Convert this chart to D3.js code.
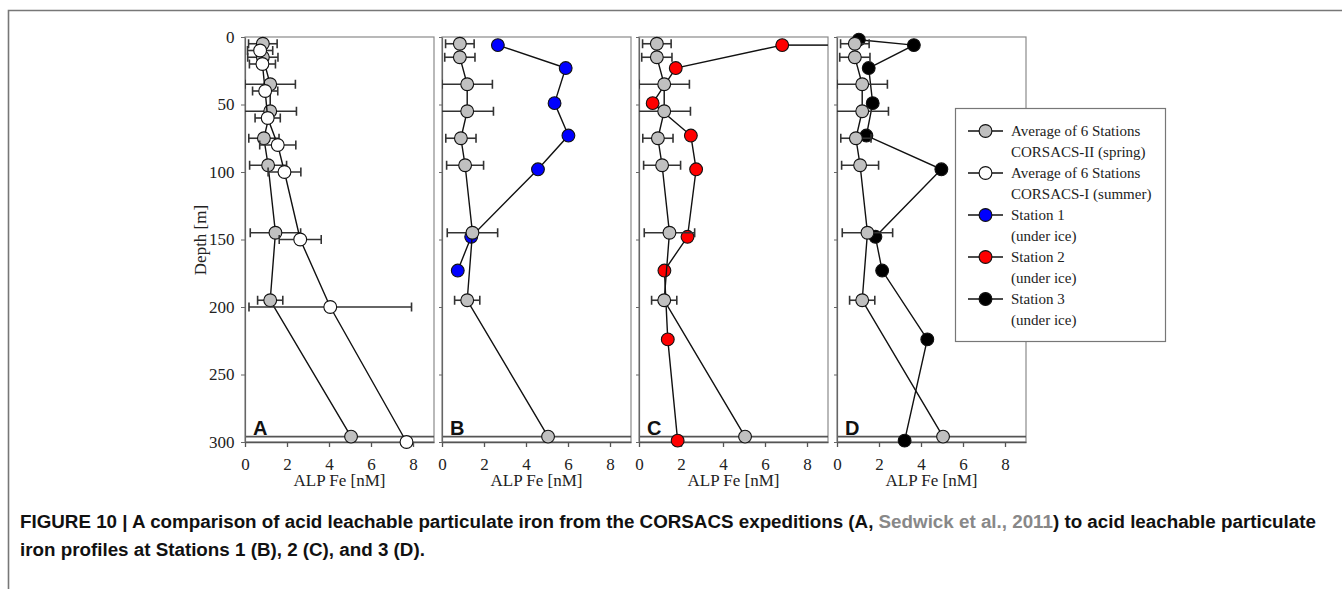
<!DOCTYPE html>
<html>
<head>
<meta charset="utf-8">
<script src="https://cdn.jsdelivr.net/npm/d3@7"></script>
<style>
  html, body { margin: 0; padding: 0; background: #fff; }
  svg { display: block; }
</style>
</head>
<body>
<svg id="fig" width="1342" height="589"></svg>
<script>
// ALP Fe depth profiles: CORSACS averages and under-ice stations
const xTicks = [0, 2, 4, 6, 8];
const yTicks = [0, 50, 100, 150, 200, 250, 300];
const panelLetters = ["A", "B", "C", "D"];

// CORSACS-II (spring) average of 6 stations
const springDepth = [5, 15, 35, 55, 75, 95, 145, 195, 296];
const springFe    = [0.85, 0.85, 1.2, 1.2, 0.9, 1.1, 1.45, 1.2, 5.05];
const springErr   = [0.68, 0.72, 1.2, 1.25, 0.72, 0.88, 1.2, 0.6, 0];

// CORSACS-I (summer) average of 6 stations
const summerDepth = [10, 20, 40, 60, 80, 100, 150, 200, 300];
const summerFe    = [0.72, 0.83, 0.96, 1.08, 1.56, 1.88, 2.63, 4.06, 7.69];
const summerErr   = [0.6, 0.62, 0.6, 0.6, 0.86, 0.78, 1.0, 3.87, 0];

// Station 1 (under ice)
const st1Depth = [6, 23, 49, 73, 98, 148, 173];
const st1Fe    = [2.66, 5.89, 5.36, 6.02, 4.57, 1.39, 0.75];

// Station 2 (under ice); only the upward error of the surface sample is shown
const st2Depth = [6, 23, 49, 73, 98, 148, 173, 224, 299];
const st2Fe    = [6.82, 1.75, 0.65, 2.47, 2.72, 2.31, 1.21, 1.37, 1.84];
const st2ErrUp = [3.0, 0, 0, 0, 0, 0, 0, 0, 0];

// Station 3 (under ice)
const st3Depth = [2, 6, 23, 49, 73, 98, 148, 173, 224, 299];
const st3Fe    = [1.04, 3.66, 1.51, 1.70, 1.40, 4.97, 1.83, 2.15, 4.30, 3.22];

const legendLabels = [
  ["Average of 6 Stations", "CORSACS-II (spring)"],
  ["Average of 6 Stations", "CORSACS-I (summer)"],
  ["Station 1", "(under ice)"],
  ["Station 2", "(under ice)"],
  ["Station 3", "(under ice)"]
];
const seafloorDepth = 296;

const zip = (d, v, e, eu) => d.map((dep, i) => ({
  depth: dep, fe: v[i],
  lo: e ? v[i] - e[i] : null, hi: e ? v[i] + e[i] : (eu ? v[i] + eu[i] : null)
}));

const spring = { pts: zip(springDepth, springFe, springErr), fill: "#c0c0c0" };
const summer = { pts: zip(summerDepth, summerFe, summerErr), fill: "#ffffff" };
const st1 = { pts: zip(st1Depth, st1Fe), fill: "#0000ff" };
const st2 = { pts: zip(st2Depth, st2Fe, null, st2ErrUp), fill: "#ff0000" };
const st3 = { pts: zip(st3Depth, st3Fe), fill: "#000000" };

const panels = [
  { series: [spring, summer] },
  { series: [st1, spring] },
  { series: [st2, spring] },
  { series: [st3, spring] }
];

const svg = d3.select("#fig");
const serif = "'Liberation Serif', 'Times New Roman', serif";
const sans = "'Liberation Sans', Arial, sans-serif";

// outer figure frame
svg.append("path")
  .attr("d", "M8.5,589 V10.5 H1342")
  .attr("fill", "none").attr("stroke", "#777").attr("stroke-width", 1.6);

const panelLeft = [245, 442, 639, 837];
const pw = 189, pTop = 37, pBottom = 442;
const y = d3.scaleLinear().domain([0, 300]).range([pTop, pBottom]);
const R = 6.4;

panels.forEach((p, pi) => {
  const x = d3.scaleLinear().domain([0, 9]).range([panelLeft[pi], panelLeft[pi] + pw]);
  const g = svg.append("g");

  // frame
  g.append("rect")
    .attr("x", x(0)).attr("y", pTop).attr("width", x(9) - x(0)).attr("height", pBottom - pTop)
    .attr("fill", "none").attr("stroke", "#8a8a8a").attr("stroke-width", 1.2);

  // seafloor line
  g.append("line")
    .attr("x1", x(0)).attr("x2", x(9)).attr("y1", y(seafloorDepth)).attr("y2", y(seafloorDepth))
    .attr("stroke", "#555").attr("stroke-width", 1.6);

  // x axis
  const xa = g.append("g").attr("transform", `translate(0,${pBottom})`)
    .call(d3.axisBottom(x).tickValues(xTicks).tickSize(5).tickSizeOuter(0));
  xa.select(".domain").attr("stroke", "#555").attr("stroke-width", 1.4);
  xa.selectAll(".tick line").attr("stroke", "#555").attr("stroke-width", 1.3);
  xa.selectAll(".tick text").attr("font-family", serif).attr("font-size", 17)
    .attr("fill", "#222").attr("dy", "1.15em");

  // y axis (labels only on the first panel)
  const ya = g.append("g").attr("transform", `translate(${x(0)},0)`)
    .call(d3.axisLeft(y).tickValues(yTicks).tickSize(pi === 0 ? 4 : 3).tickSizeOuter(0)
      .tickFormat(pi === 0 ? d3.format("d") : () => ""));
  ya.select(".domain").attr("stroke", "#666").attr("stroke-width", 1.2);
  ya.selectAll(".tick line").attr("stroke", "#666");
  ya.selectAll(".tick text").attr("font-family", serif).attr("font-size", 17)
    .attr("fill", "#222").attr("dx", "-0.2em");

  g.append("text")
    .attr("x", x(4.5)).attr("y", 486).attr("text-anchor", "middle")
    .attr("font-family", serif).attr("font-size", 17).attr("fill", "#222")
    .text("ALP Fe [nM]");

  g.append("text")
    .attr("x", x(0) + 8).attr("y", y(seafloorDepth) - 2)
    .attr("font-family", sans).attr("font-weight", "bold").attr("font-size", 20).attr("fill", "#111")
    .text(panelLetters[pi]);

  // clip for data marks
  const clipId = "clip" + pi;
  svg.append("clipPath").attr("id", clipId).append("rect")
    .attr("x", x(0)).attr("y", pTop - 10).attr("width", x(9) - x(0)).attr("height", pBottom - pTop + 20);
  const dg = g.append("g").attr("clip-path", `url(#${clipId})`);

  const line = d3.line().x(d => x(d.fe)).y(d => y(d.depth));
  p.series.forEach(s => {
    dg.append("path").datum(s.pts).attr("d", line)
      .attr("fill", "none").attr("stroke", "#111").attr("stroke-width", 1.4);
    const eb = s.pts.filter(d => d.hi !== null && d.hi !== d.fe);
    eb.forEach(d => {
      const lo = d.lo === null ? d.fe : Math.max(d.lo, 0);
      dg.append("line").attr("x1", x(lo)).attr("x2", x(d.hi))
        .attr("y1", y(d.depth)).attr("y2", y(d.depth))
        .attr("stroke", "#333").attr("stroke-width", 1.6);
      const caps = d.lo === null ? [d.hi] : [d.lo, d.hi];
      caps.forEach(c => {
        if (c < 0 || c > 9) return;
        dg.append("line").attr("x1", x(c)).attr("x2", x(c))
          .attr("y1", y(d.depth) - 4.5).attr("y2", y(d.depth) + 4.5)
          .attr("stroke", "#333").attr("stroke-width", 1.6);
      });
    });
    dg.selectAll(null).data(s.pts).enter().append("circle")
      .attr("cx", d => x(d.fe)).attr("cy", d => y(d.depth)).attr("r", R)
      .attr("fill", s.fill).attr("stroke", "#111").attr("stroke-width", 1.1);
  });
});

// y axis title
svg.append("text")
  .attr("transform", `translate(206,240) rotate(-90)`)
  .attr("text-anchor", "middle")
  .attr("font-family", serif).attr("font-size", 17).attr("fill", "#222")
  .text("Depth [m]");

// legend
const lg = svg.append("g");
lg.append("rect").attr("x", 955.5).attr("y", 108.5).attr("width", 210).attr("height", 233)
  .attr("fill", "#fff").attr("stroke", "#777").attr("stroke-width", 1.2);
const legendFills = [spring.fill, summer.fill, st1.fill, st2.fill, st3.fill];
legendLabels.forEach((lab, i) => {
  const cy = 131 + i * 42;
  lg.append("line").attr("x1", 968).attr("x2", 1003).attr("y1", cy).attr("y2", cy)
    .attr("stroke", "#111").attr("stroke-width", 1.4);
  lg.append("circle").attr("cx", 985.5).attr("cy", cy).attr("r", R)
    .attr("fill", legendFills[i]).attr("stroke", "#111").attr("stroke-width", 1.1);
  lab.forEach((t, j) => {
    lg.append("text").attr("x", 1011).attr("y", cy + j * 21 + 5)
      .attr("font-family", serif).attr("font-size", 15).attr("fill", "#222")
      .text(t);
  });
});

// caption
const cap = svg.append("g").attr("font-family", sans).attr("font-weight", "bold")
  .attr("font-size", 18.8).attr("fill", "#111");
const l1 = cap.append("text").attr("x", 20).attr("y", 528);
l1.append("tspan").text("FIGURE 10 | A comparison of acid leachable particulate iron from the CORSACS expeditions (A, ");
l1.append("tspan").attr("fill", "#888").text("Sedwick et al., 2011");
l1.append("tspan").text(") to acid leachable particulate");
cap.append("text").attr("x", 20).attr("y", 556)
  .text("iron profiles at Stations 1 (B), 2 (C), and 3 (D).");
</script>
</body>
</html>
